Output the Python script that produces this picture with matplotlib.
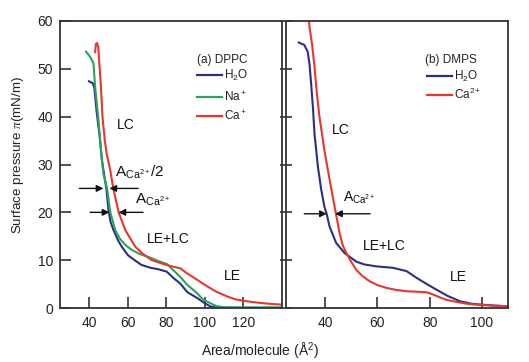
import matplotlib
matplotlib.use("Agg")
import matplotlib.pyplot as plt

plt.rcParams['font.family'] = ['Liberation Sans', 'DejaVu Sans']
plt.rcParams['mathtext.fontset'] = 'custom'
plt.rcParams['mathtext.rm'] = 'Liberation Sans'
plt.rcParams['mathtext.it'] = 'Liberation Serif:italic'
plt.rcParams['mathtext.bf'] = 'Liberation Sans:bold'

# ---------------- DATA ----------------
# (a) DPPC isotherms
dppc_h2o_x = [40.0, 42.0, 42.8, 44.0, 45.5, 46.7, 48.0, 49.0, 50.1, 51.2, 52.7, 55.0, 57.0, 60.3,
              64.0, 67.2, 72.0, 76.0, 80.3, 84.0, 87.3, 91.0, 96.0, 100.0, 103.0, 106.0, 110.0, 140.0]
dppc_h2o_y = [47.4, 47.0, 46.0, 41.0, 36.0, 31.0, 27.5, 25.0, 20.5, 18.0, 16.3, 14.2, 12.8, 11.0,
              9.9, 9.0, 8.4, 8.1, 7.6, 6.2, 5.1, 3.3, 2.1, 1.0, 0.3, 0.1, 0.05, 0.05]

dppc_na_x = [38.5, 40.6, 42.3, 43.2, 44.9, 46.7, 47.5, 49.4, 51.0, 53.6, 56.0, 58.8, 62.0, 65.7,
             69.0, 72.6, 76.0, 80.3, 84.0, 87.3, 91.0, 96.0, 99.0, 102.9, 106.0, 110.0, 120.0, 140.0]
dppc_na_y = [53.6, 52.5, 51.2, 46.3, 39.3, 30.9, 28.0, 25.0, 20.1, 16.3, 14.5, 13.2, 12.2, 11.4,
             10.9, 10.4, 9.8, 9.2, 7.8, 6.5, 4.8, 3.1, 1.8, 1.0, 0.4, 0.15, 0.1, 0.1]

dppc_ca_x = [43.2, 43.6, 44.2, 44.8, 45.4, 46.2, 47.0, 48.2, 49.3, 51.0, 52.6, 55.3, 58.8, 64.0,
             68.0, 72.6, 77.0, 80.3, 84.0, 87.3, 91.0, 96.0, 101.4, 106.0, 111.7, 116.0, 122.0,
             128.0, 133.0, 140.0]
dppc_ca_y = [53.5, 55.2, 55.4, 54.6, 51.0, 46.3, 40.0, 35.0, 32.0, 28.9, 25.0, 20.1, 16.3, 12.8,
             11.3, 10.0, 9.4, 9.0, 8.6, 8.3, 7.2, 5.9, 4.5, 3.4, 2.4, 1.8, 1.4,
             1.1, 0.9, 0.7]

# (b) DMPS isotherms
dmps_h2o_x = [29.9, 32.0, 33.3, 34.0, 34.6, 35.3, 35.9, 37.2, 38.5, 39.7, 40.6, 41.7, 44.2, 47.4,
              51.9, 55.0, 59.6, 66.0, 71.2, 75.0, 78.0, 82.7, 87.0, 91.7, 96.0, 100.0, 105.0, 110.0]
dmps_h2o_y = [55.5, 55.0, 53.6, 51.0, 47.0, 42.0, 36.5, 29.6, 24.7, 21.2, 19.6, 17.0, 13.6, 11.5,
              9.7, 9.1, 8.7, 8.4, 7.7, 6.3, 5.3, 3.8, 2.5, 1.4, 0.9, 0.7, 0.5, 0.35]

dmps_ca_x = [33.7, 34.0, 35.0, 35.9, 36.8, 37.8, 39.7, 41.7, 43.6, 45.5, 46.8, 48.1, 50.0, 51.9,
             54.0, 57.0, 60.0, 63.5, 67.0, 71.2, 75.0, 78.8, 81.4, 84.0, 86.5, 90.0, 94.2, 99.0,
             104.4, 110.0]
dmps_ca_y = [60.5, 58.8, 55.0, 50.5, 45.0, 40.0, 33.0, 26.8, 21.2, 15.7, 13.0, 11.5, 9.6, 8.0,
             6.8, 5.6, 4.8, 4.2, 3.8, 3.5, 3.4, 3.3, 2.8, 2.2, 1.7, 1.3, 0.9, 0.65,
             0.5, 0.35]

dppc_xticks = [40, 60, 80, 100, 120]
dmps_xticks = [40, 60, 80, 100]
yticks = [0, 10, 20, 30, 40, 50, 60]

BLUE = '#2b2f86'
GREEN = '#2aa35c'
RED = '#e8372c'
SPINE = '#333333'

fig = plt.figure(figsize=(5.29, 3.62), dpi=100)
axA = fig.add_axes([60/529, 1-308/362, 222/529, 287/362])
axB = fig.add_axes([286/529, 1-308/362, 222/529, 287/362])

lw = 1.5
axA.plot(dppc_h2o_x, dppc_h2o_y, color=BLUE, lw=lw)
axA.plot(dppc_na_x, dppc_na_y, color=GREEN, lw=lw)
axA.plot(dppc_ca_x, dppc_ca_y, color=RED, lw=lw)
axB.plot(dmps_h2o_x, dmps_h2o_y, color=BLUE, lw=lw)
axB.plot(dmps_ca_x, dmps_ca_y, color=RED, lw=lw)

axA.set_xlim(25, 140)
axB.set_xlim(25, 110)
axA.set_xticks(dppc_xticks)
axB.set_xticks(dmps_xticks)
for ax in (axA, axB):
    ax.set_ylim(0, 60)
    ax.set_yticks(yticks)
    for s in ax.spines.values():
        s.set_color(SPINE)
        s.set_linewidth(1.3)

axA.tick_params(axis='x', which='major', direction='in', length=8, width=1.2, color=SPINE,
                labelsize=10, labelcolor='#222222', pad=6, bottom=True, top=False)
axA.tick_params(axis='y', which='major', direction='in', length=8, width=1.2, color=SPINE,
                labelsize=10, labelcolor='#222222', pad=5, left=True, right=False)
axB.tick_params(axis='x', which='major', direction='in', length=8, width=1.2, color=SPINE,
                labelsize=10, labelcolor='#222222', pad=6, bottom=True, top=False)
axB.tick_params(axis='y', which='major', direction='inout', length=9, width=1.2, color=SPINE,
                labelleft=False, left=True, right=False)

fig.text(18/529, 1-155/362, r'Surface pressure $\pi$(mN/m)', fontsize=9.6, color='#222222',
         rotation=90, ha='center', va='center')
fig.text(260/529, 1-350/362, r'Area/molecule (Å$^\mathregular{2}$)', fontsize=10,
         ha='center', va='center', color='#222222')

# annotations
tk = dict(fontsize=10, color='#111111')
ak = dict(fontsize=11, color='#111111')
axA.text(54.6, 38.3, 'LC', va='center', **tk)
axA.text(53.6, 28.9, r'$\mathregular{A_{Ca^{2+}}/2}$', va='center_baseline', **ak)
axA.text(64.0, 23.0, r'$\mathregular{A_{Ca^{2+}}}$', va='center_baseline', **ak)
axA.text(70.2, 14.4, 'LE+LC', va='center', **tk)
axA.text(109.7, 6.7, 'LE', va='center', **tk)

axB.text(42.5, 37.2, 'LC', va='center', **tk)
axB.text(47.0, 23.6, r'$\mathregular{A_{Ca^{2+}}}$', va='center_baseline', fontsize=10,
         color='#111111')
axB.text(54.6, 13.0, 'LE+LC', va='center', **tk)
axB.text(87.8, 6.5, 'LE', va='center', **tk)

ap = dict(arrowstyle='-|>', color='#111111', lw=1.0, mutation_scale=10, shrinkA=0, shrinkB=0)
def double_arrow(ax, y, x0, x1, tip0, tip1):
    ax.annotate('', xy=(tip0, y), xytext=(x0, y), arrowprops=ap)
    ax.annotate('', xy=(tip1, y), xytext=(x1, y), arrowprops=ap)

double_arrow(axA, 25, 35.0, 65.5, 47.5, 50.6)
double_arrow(axA, 20, 40.6, 68.0, 50.6, 55.3)
double_arrow(axB, 19.7, 32.0, 57.2, 40.6, 43.8)

# legends (drawn manually)
OFF = 0.015
def legend(ax, title, tx, ty, entries, lx0, lx1, txt):
    ax.text(tx, ty - OFF, title, transform=ax.transAxes, fontsize=8.5, color='#222222',
            va='baseline')
    for (lab, col, yy) in entries:
        ax.plot([lx0, lx1], [yy, yy], color=col, lw=1.6, transform=ax.transAxes)
        ax.text(txt, yy - OFF, lab, transform=ax.transAxes, fontsize=8.5, color='#222222',
                va='baseline')

legend(axA, '(a) DPPC', 0.616, 0.869,
       [(r'H$\mathregular{_2}$O', BLUE, 0.813),
        (r'Na$\mathregular{^+}$', GREEN, 0.736),
        (r'Ca$\mathregular{^+}$', RED, 0.670)],
       0.617, 0.730, 0.738)
legend(axB, '(b) DMPS', 0.626, 0.870,
       [(r'H$\mathregular{_2}$O', BLUE, 0.810),
        (r'Ca$\mathregular{^{2+}}$', RED, 0.742)],
       0.635, 0.748, 0.756)

fig.savefig('out.png', dpi=100)
